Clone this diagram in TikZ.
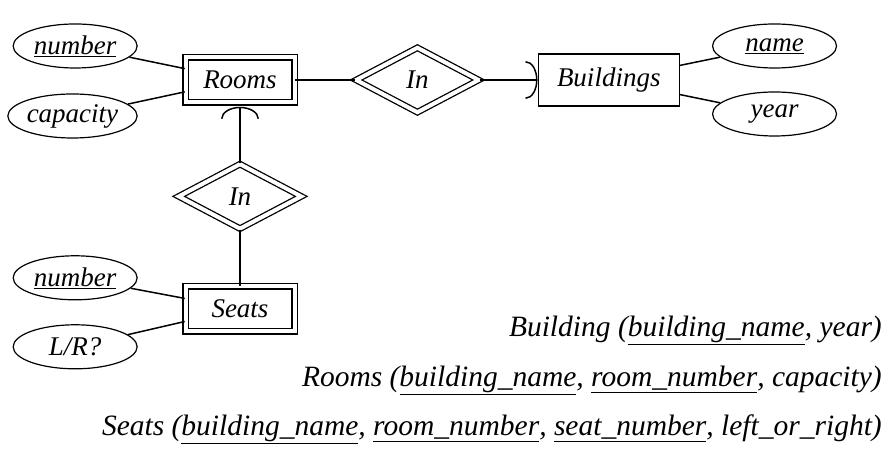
\documentclass[tikz,border=0pt]{standalone}
\usepackage{fontspec}
\setmainfont{Liberation Serif}
\usetikzlibrary{positioning,shapes.geometric,arrows.meta}
\tikzset{
  boite/.style={
    rectangle,
    draw=black,line width=1.4pt,
    minimum width=141pt,
    minimum height=52pt,
    font=\itshape\fontsize{27}{30}\selectfont,
    text centered},
  boitefaible/.style={
    boite,
    double,double distance=4pt,line width=1.5pt,
    minimum width=109pt,
    minimum height=45pt},
  losange/.style={
    diamond,aspect=1.8,
    draw=black,double,double distance=4pt,line width=1.3pt,
    minimum width=123pt,
    minimum height=65pt,
    inner sep=0pt,
    font=\itshape\fontsize{27}{30}\selectfont},
  attribut/.style={
    ellipse,
    draw=black,line width=1.2pt,
    minimum width=124pt,
    minimum height=44pt,
    inner sep=0pt,
    font=\itshape\fontsize{27}{30}\selectfont},
  line/.style = {draw,line width=1.5pt},
  fleche/.style = {line,-{Arc Barb[width=38pt,length=12pt]}},
  relation/.style={
    anchor=base east,
    inner sep=0pt,
    font=\itshape\fontsize{29.5}{32}\selectfont},
}

\begin{document}
\begin{tikzpicture}[x=1pt,y=1pt,node distance=50pt]
  \useasboundingbox (0,0) rectangle (887,449);
  \node[boitefaible](rooms) at (240,369) {Rooms};
  \node[losange](in_building)[right=60pt of rooms] {In};
  \draw[line] (rooms) -- (in_building);
  \node[boite](buildings)[right=58pt of in_building] {Buildings};
  \draw[fleche] (in_building) -- (buildings);
  \node[losange](in_room)[below=60pt of rooms] {In};
  \draw[fleche,shorten >=3.5pt] (in_room) -- (rooms);
  \node[boitefaible](seats)[below=56pt of in_room] {Seats};
  \draw[line] (in_room) -- (seats);
  % attributs
  \node[attribut](room_number)[left=47pt of rooms,yshift=34pt] {\underline{number}};
  \node[attribut](capacity)[left=47pt of rooms,yshift=-36pt] {capacity};
  \draw[line] (room_number) -- (rooms);
  \draw[line] (capacity) -- (rooms);
  \node[attribut](name)[right=32pt of buildings,yshift=34pt] {\underline{name}};
  \node[attribut](year)[right=32pt of buildings,yshift=-34pt] {year};
  \draw[line] (buildings) -- (name);
  \draw[line] (buildings) -- (year);
  \node[attribut](seat_number)[left=47pt of seats,yshift=31pt] {\underline{number}};
  \node[attribut](side)[left=47pt of seats,yshift=-38pt] {L/R?};
  \draw[line] (seat_number) -- (seats);
  \draw[line] (side) -- (seats);
  % relations
  \node[relation](rel_building) at (882,112) {Building (\underline{building\_name}, year)};
  \node[relation](rel_rooms) at (882,62) {Rooms (\underline{building\_name}, \underline{room\_number}, capacity)};
  \node[relation](rel_seats) at (882,13) {Seats (\underline{building\_name}, \underline{room\_number}, \underline{seat\_number}, left\_or\_right)};
\end{tikzpicture}
\end{document}
